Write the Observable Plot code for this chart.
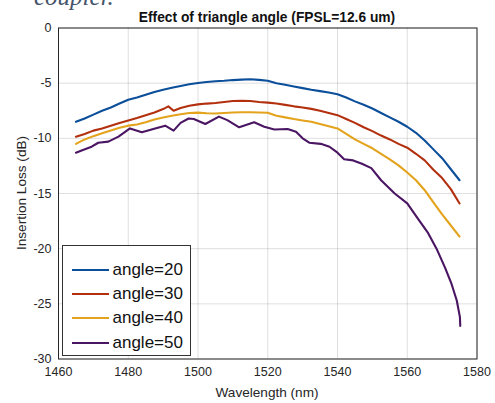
<!DOCTYPE html>
<html>
<head>
<meta charset="utf-8">
<script src="https://cdn.jsdelivr.net/npm/d3@7"></script>
<script src="https://cdn.jsdelivr.net/npm/@observablehq/plot@0.6"></script>
<style>
  html, body { margin: 0; padding: 0; background: #fff; }
  #wrap { position: relative; width: 495px; height: 403px; overflow: hidden; font-family: "Liberation Sans", Arial, sans-serif; }
  #wrap svg { position: absolute; left: 0; top: 0; }
  .ov { position: absolute; white-space: nowrap; color: #262626; }
  #legend { position: absolute; left: 61.5px; top: 245px; width: 127px; height: 109px; border: 1px solid #333; background: #fff; box-sizing: content-box; }
  .row { position: absolute; left: 0; height: 24px; display: flex; align-items: center; }
  .sw { width: 37px; height: 2.2px; margin-left: 9px; margin-right: 4px; }
  .lt { font-size: 17px; color: #111; }
</style>
</head>
<body>
<div id="wrap"></div>
<script>
// ---- data ----
const seriesNames = ["angle=20", "angle=30", "angle=40", "angle=50"];
const seriesColors = ["#0b4e9a", "#b3300e", "#e3a31c", "#4a1562"];

const wl20 = [1465,1467.5,1470,1472.5,1475,1477.5,1480,1482.5,1485,1487.5,1490,1492.5,1495,1497.5,1500,1502.5,1505,1507.5,1510,1512.5,1515,1517.5,1520,1522.5,1525,1527.5,1530,1532.5,1535,1537.5,1540,1542.5,1545,1547.5,1550,1552.5,1555,1557.5,1560,1562.5,1565,1567.5,1570,1572.5,1575];
const il20 = [-8.5,-8.2,-7.85,-7.5,-7.2,-6.85,-6.5,-6.3,-6.05,-5.8,-5.6,-5.42,-5.25,-5.1,-4.98,-4.9,-4.82,-4.78,-4.72,-4.68,-4.65,-4.7,-4.78,-5.0,-5.15,-5.3,-5.45,-5.6,-5.72,-5.85,-6.0,-6.3,-6.65,-6.95,-7.3,-7.7,-8.1,-8.5,-8.95,-9.5,-10.2,-11.0,-11.8,-12.8,-13.8];

const wl30 = [1465,1467.5,1470,1472.5,1475,1477.5,1480,1482.5,1485,1487.5,1490,1491.5,1493,1495,1497.5,1500,1502.5,1505,1507.5,1510,1512.5,1515,1517.5,1520,1522.5,1525,1527.5,1530,1532.5,1535,1537.5,1540,1542.5,1545,1547.5,1550,1552.5,1555,1557.5,1560,1562.5,1565,1567.5,1570,1572.5,1575];
const il30 = [-9.85,-9.6,-9.3,-9.1,-8.85,-8.6,-8.38,-8.15,-7.9,-7.65,-7.35,-7.1,-7.5,-7.25,-7.05,-6.92,-6.85,-6.8,-6.7,-6.62,-6.6,-6.62,-6.7,-6.76,-6.85,-6.97,-7.1,-7.2,-7.33,-7.5,-7.7,-7.9,-8.25,-8.6,-9.0,-9.35,-9.75,-10.1,-10.5,-10.85,-11.4,-12.0,-12.85,-13.6,-14.6,-15.9];

const wl40 = [1465,1467.5,1470,1472.5,1475,1477.5,1480,1482.5,1485,1487.5,1490,1492.5,1495,1497.5,1500,1502.5,1505,1507.5,1510,1512.5,1515,1517.5,1520,1522.5,1525,1527.5,1530,1532.5,1535,1537.5,1540,1542.5,1545,1547.5,1550,1552.5,1555,1557.5,1560,1562.5,1565,1567.5,1570,1572.5,1575];
const il40 = [-10.5,-10.1,-9.8,-9.55,-9.3,-9.05,-8.85,-8.75,-8.55,-8.3,-8.12,-7.95,-7.82,-7.7,-7.67,-7.72,-7.75,-7.7,-7.66,-7.64,-7.64,-7.66,-7.68,-7.95,-8.1,-8.25,-8.38,-8.5,-8.7,-8.9,-9.1,-9.6,-10.1,-10.5,-10.9,-11.4,-11.9,-12.45,-13.1,-13.8,-14.7,-15.8,-16.9,-17.9,-18.9];

const wl50 = [1465,1467,1469.5,1471.4,1474.3,1477.2,1480.5,1483.9,1487.7,1490.6,1493,1495,1497.3,1498.8,1502.1,1506,1508.4,1511.8,1516.1,1519,1521.9,1525.7,1528.1,1530,1531.9,1535.2,1537.7,1540,1541.9,1544.5,1547,1549.7,1552.5,1556.4,1560,1563.1,1566,1568.4,1570.8,1572.7,1574.2,1575.1,1575.2];
const il50 = [-11.3,-11.05,-10.76,-10.4,-10.3,-9.85,-9.1,-9.45,-9.1,-8.85,-9.3,-8.6,-8.2,-8.25,-8.7,-8.03,-8.35,-9.0,-8.55,-8.95,-9.2,-9.15,-9.4,-10.0,-10.4,-10.5,-10.76,-11.3,-11.9,-12.0,-12.3,-12.7,-13.8,-15.0,-15.9,-17.3,-18.6,-20.0,-21.7,-23.2,-24.7,-26.2,-27.0];

const xTicks = [1460,1480,1500,1520,1540,1560,1580];
const yTicks = [0,-5,-10,-15,-20,-25,-30];

const titleText = "Effect of triangle angle (FPSL=12.6 um)";
const xLabel = "Wavelength (nm)";
const yLabel = "Insertion Loss (dB)";
const topFragment = "coupler.";

// ---- build rows ----
const wls = [wl20, wl30, wl40, wl50];
const ils = [il20, il30, il40, il50];
const rows = [];
seriesNames.forEach((name, i) => {
  wls[i].forEach((w, j) => rows.push({series: name, wl: w, il: ils[i][j]}));
});

const plot = Plot.plot({
  width: 495,
  height: 403,
  marginLeft: 58,
  marginRight: 18.5,
  marginTop: 27.5,
  marginBottom: 44.5,
  style: {fontFamily: "'Liberation Sans', Arial, sans-serif", fontSize: "12.5px", color: "#262626", background: "#fff"},
  x: {domain: [1460, 1580]},
  y: {domain: [-30, 0]},
  color: {domain: seriesNames, range: seriesColors},
  marks: [
    Plot.gridX(xTicks, {stroke: "#262626", strokeOpacity: 0.15}),
    Plot.gridY(yTicks, {stroke: "#262626", strokeOpacity: 0.15}),
    Plot.line(rows, {x: "wl", y: "il", z: "series", stroke: "series", strokeWidth: 2.1, curve: "linear"}),
    Plot.frame({stroke: "#262626", strokeWidth: 1}),
    Plot.axisX(xTicks, {anchor: "bottom", tickSize: 0, tickPadding: 8, label: null, tickFormat: d => String(d)}),
    Plot.axisY(yTicks, {anchor: "left", tickSize: 0, tickPadding: 7, label: null, tickFormat: d => String(d)})
  ]
});

const wrap = document.getElementById("wrap");
wrap.appendChild(plot);

function ov(text, css) {
  const d = document.createElement("div");
  d.className = "ov";
  d.textContent = text;
  Object.assign(d.style, css);
  wrap.appendChild(d);
  return d;
}
// partially cut text fragment at top-left (from surrounding document)
ov(topFragment, {left: "34px", top: "-18px", fontFamily: "'Liberation Serif', serif", fontStyle: "italic", fontSize: "25px", color: "#44546a", lineHeight: "30px"});
ov(titleText, {left: "267px", top: "16.7px", transform: "translate(-50%,-50%)", fontWeight: "bold", fontSize: "13.8px", color: "#111"});
ov(xLabel, {left: "267px", top: "392px", transform: "translate(-50%,-50%)", fontSize: "13.6px"});
ov(yLabel, {left: "21px", top: "193px", transform: "translate(-50%,-50%) rotate(-90deg)", fontSize: "13.6px"});

// legend
const lg = document.createElement("div");
lg.id = "legend";
const centers = [24, 48.3, 72.3, 96.7];
seriesNames.forEach((name, i) => {
  const r = document.createElement("div");
  r.className = "row";
  r.style.top = (centers[i] - 12) + "px";
  const sw = document.createElement("div");
  sw.className = "sw";
  sw.style.background = seriesColors[i];
  const t = document.createElement("span");
  t.className = "lt";
  t.textContent = name;
  r.appendChild(sw); r.appendChild(t);
  lg.appendChild(r);
});
wrap.appendChild(lg);
</script>
</body>
</html>
